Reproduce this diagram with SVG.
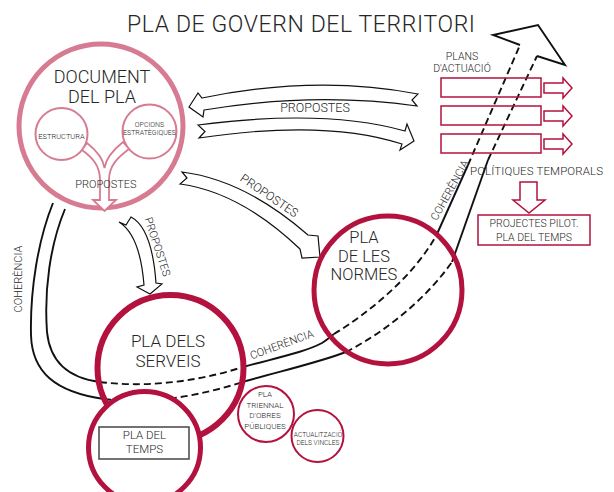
<svg xmlns="http://www.w3.org/2000/svg" width="614" height="492" viewBox="0 0 614 492">
<style>
.t{font-family:Roboto,"Liberation Sans",sans-serif;font-weight:300;fill:#262626}
.m{text-anchor:middle}
.ln{fill:none;stroke:#111;stroke-width:1.9}
.ds{fill:none;stroke:#111;stroke-width:1.9;stroke-dasharray:7 4}
.ar{fill:#fff;stroke:#111;stroke-width:1.2;stroke-linejoin:miter}
.pk{fill:none;stroke:#d77b92}
.cr{stroke:#b3123e}
.crf{fill:#fff;stroke:#b3123e;stroke-width:1.5}
</style>
<rect width="614" height="492" fill="#fff"/>
<text class="t" x="127" y="32" font-size="23" textLength="348">PLA DE GOVERN DEL TERRITORI</text>

<g id="connectors">
  <!-- coherencia band, inner/left line -->
  <path class="ln" d="M65 209 C50 245 44 290 47 332 C50 362 68 378 100 382"/>
  <path class="ds" d="M100 382 C140 387 190 384 243 367"/>
  <path class="ln" d="M243 367 C280 357 305 352 322 343 C327 340 330 337 334 334"/>
  <path class="ds" d="M334 334 C370 312 415 275 437 234"/>
  <path class="ln" d="M437 234 L468 165"/>
  <path class="ds" d="M468 165 L520 45"/>
  <!-- outer/right line -->
  <path class="ln" d="M53 203 C38 240 30 290 31 335 C32 372 55 392 104 399"/>
  <path class="ds" d="M104 399 C150 405 200 396 246 381"/>
  <path class="ln" d="M246 381 C285 370 320 362 346 352"/>
  <path class="ds" d="M346 352 C385 332 425 300 452 262"/>
  <path class="ln" d="M452 262 L488 160"/>
  <path class="ds" d="M488 160 L537 56"/>
  <path class="ln" d="M520 45 L493 35 L538 25 L565 65 L537 56" stroke-linejoin="miter"/>
  <text class="t m" font-size="11" transform="translate(22 279) rotate(-90)">COHERÈNCIA</text>
  <text class="t m" font-size="11" transform="translate(283 348) rotate(-20)">COHERÈNCIA</text>
  <text class="t m" font-size="11" transform="translate(453 192) rotate(-61)">COHERÈNCIA</text>

  <!-- PROPOSTES double arrows -->
  <path class="ar" d="M189 107 L198 93 L202 98 Q316.5 74.5 418 94 L412 100 L417 106 Q315 91.5 204 110 L203 117 Z"/>
  <path class="ar" d="M198 125 Q324.5 108.5 405 131 L407 124 L414 141 L400 150 L402 144 Q325.5 119 199 138 L205 131.5 Z"/>
  <text class="t m" x="315" y="112" font-size="12.5">PROPOSTES</text>
  <!-- diagonal to normes -->
  <path class="ar" d="M182 172 Q245 180 308 235 L318 236 L320 257 L302 258 L300 249 Q240 192 180 184 L187 178 Z"/>
  <text class="t m" font-size="12" transform="translate(267 199) rotate(34)">PROPOSTES</text>
  <!-- down to serveis -->
  <path class="ar" d="M119 222 Q140 235 144 285 L137 287 L150 294 L162 284 L156 283 Q152 228 131 217 L126 225 Z"/>
  <text class="t m" font-size="11" transform="translate(154 248) rotate(72)">PROPOSTES</text>
</g>

<g id="document">
  <circle class="pk" cx="101" cy="126" r="82" stroke-width="5"/>
  <circle class="pk" cx="61.5" cy="134" r="26" stroke-width="2"/>
  <circle class="pk" cx="149.5" cy="131.5" r="27" stroke-width="2"/>
  <path d="M82 150 C93 158 100 166 100 180 L100 200 L93 200 L104.5 211 L116 200 L109 200 L109 180 C109 166 117 158 129 149 L123 142 C113 150 106 158 104.5 168 C103 158 96 150 87 143 Z" fill="#fff" stroke="#d77b92" stroke-width="1.8"/>
  <text class="t m" x="102" y="83" font-size="18">DOCUMENT</text>
  <text class="t m" x="102" y="103" font-size="18">DEL PLA</text>
  <text class="t m" x="61.5" y="139" font-size="7.5">ESTRUCTURA</text>
  <text class="t m" x="149.5" y="127" font-size="7">OPCIONS</text>
  <text class="t m" x="149.5" y="134.5" font-size="7">ESTRATÈGIQUES</text>
  <text class="t m" x="106" y="188" font-size="11">PROPOSTES</text>
</g>

<g id="plans">
  <text class="t m" x="462" y="60" font-size="10.5">PLANS</text>
  <text class="t m" x="462" y="72" font-size="10.5">D'ACTUACIÓ</text>
  <rect class="cr" x="441" y="78" width="100" height="19" fill="none" stroke-width="1.5"/>
  <rect class="cr" x="441" y="106" width="100" height="19" fill="none" stroke-width="1.5"/>
  <rect class="cr" x="441" y="134" width="100" height="19" fill="none" stroke-width="1.5"/>
  <path class="crf" d="M544 83 L563 83 L563 78 L572 88 L563 98 L563 93 L544 93 Z"/>
  <path class="crf" d="M544 111 L563 111 L563 106 L572 116 L563 126 L563 121 L544 121 Z"/>
  <path class="crf" d="M544 139 L563 139 L563 134 L572 144 L563 154 L563 149 L544 149 Z"/>
</g>

<g id="politiques">
  <text class="t" x="470" y="175" font-size="11.5" textLength="133">POLÍTIQUES TEMPORALS</text>
  <path class="crf" d="M520 182 L537 182 L537 200 L545 200 L529 213 L513 200 L520 200 Z"/>
</g>

<g id="projectes">
  <rect class="crf" x="478" y="215" width="112" height="30"/>
  <text class="t m" x="534" y="227" font-size="10.5">PROJECTES PILOT.</text>
  <text class="t m" x="534" y="241" font-size="10.5">PLA DEL TEMPS</text>
</g>

<g id="normes">
  <circle cx="388" cy="290" r="74" fill="none" class="cr" stroke-width="5"/>
  <text class="t m" x="364" y="243" font-size="16.5">PLA</text>
  <text class="t m" x="364" y="262" font-size="16.5">DE LES</text>
  <text class="t m" x="364" y="280" font-size="16.5">NORMES</text>
</g>

<g id="serveis">
  <circle cx="170.5" cy="368" r="73" fill="none" class="cr" stroke-width="6"/>
  <text class="t m" x="168" y="347" font-size="17">PLA DELS</text>
  <text class="t m" x="168" y="367" font-size="17">SERVEIS</text>
</g>

<g id="temps">
  <circle cx="144.5" cy="447.5" r="56" fill="#fff" class="cr" stroke-width="5"/>
  <rect x="99" y="427" width="90" height="32" fill="none" stroke="#444" stroke-width="1.5"/>
  <text class="t m" x="144.5" y="439" font-size="11.5">PLA DEL</text>
  <text class="t m" x="144.5" y="453" font-size="11.5">TEMPS</text>
</g>

<g id="triennal">
  <circle cx="266" cy="414" r="28" fill="#fff" class="cr" stroke-width="2"/>
  <text class="t m" x="265" y="397" font-size="8">PLA</text>
  <text class="t m" x="265" y="407.5" font-size="8">TRIENNAL</text>
  <text class="t m" x="265" y="418" font-size="8">D'OBRES</text>
  <text class="t m" x="265" y="428.5" font-size="8">PÚBLIQUES</text>
</g>

<g id="actualitzacio">
  <circle cx="317.5" cy="436" r="26" fill="#fff" class="cr" stroke-width="2"/>
  <text class="t m" x="318" y="436.5" font-size="6.6">ACTUALITZACIÓ</text>
  <text class="t m" x="318" y="445" font-size="6.6">DELS VINCLES</text>
</g>
</svg>
